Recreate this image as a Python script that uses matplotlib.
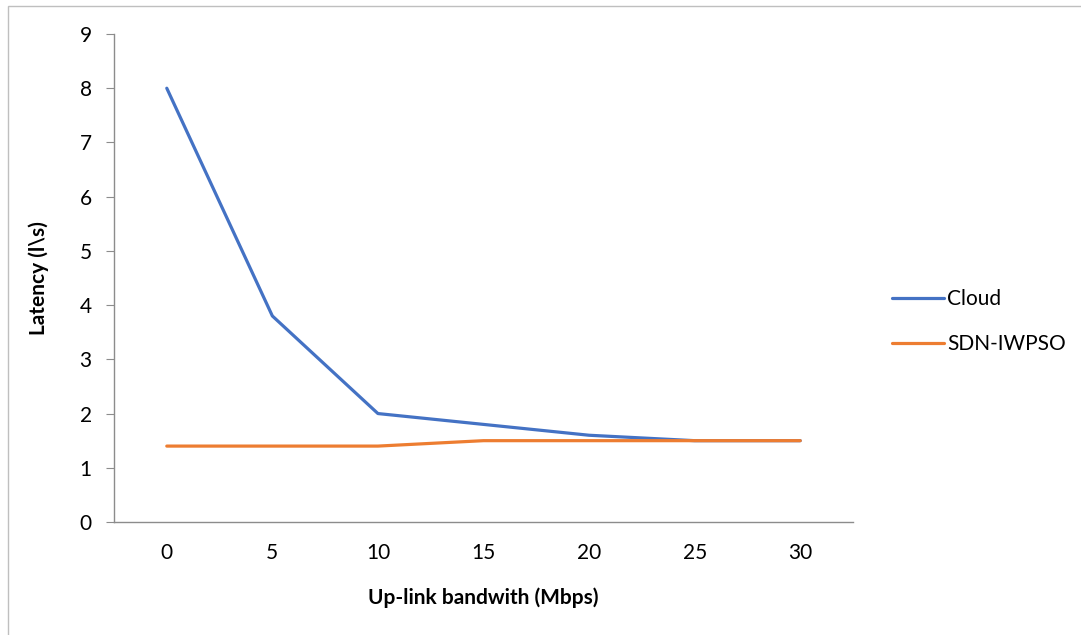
import matplotlib.pyplot as plt
from matplotlib.patches import Rectangle

categories = ["0", "5", "10", "15", "20", "25", "30"]
cloud = [8, 3.8, 2, 1.8, 1.6, 1.5, 1.5]
sdn_iwpso = [1.4, 1.4, 1.4, 1.5, 1.5, 1.5, 1.5]

plt.rcParams['font.family'] = ['Lato', 'DejaVu Sans']

fig = plt.figure(figsize=(10.81, 6.35), dpi=100)
W, H = 1081, 635
# axes box in pixels: left 114, right 853, top 34, bottom 522
ax = fig.add_axes([114 / W, 1 - 522 / H, (853 - 114) / W, (522 - 34) / H])

x = list(range(len(categories)))
ax.plot(x, cloud, color="#4472C4", lw=2.3, label="Cloud", solid_capstyle="round")
ax.plot(x, sdn_iwpso, color="#ED7D31", lw=2.3, label="SDN-IWPSO", solid_capstyle="round")

ax.set_xlim(-0.5, len(categories) - 0.5)
ax.set_ylim(0, 9)
ax.set_yticks(range(0, 10))
ax.set_xticks(x)
ax.set_xticklabels(categories)

for s in ["top", "right"]:
    ax.spines[s].set_visible(False)
for s in ["left", "bottom"]:
    ax.spines[s].set_color("#8c8c8c")
    ax.spines[s].set_linewidth(1)
ax.tick_params(axis="y", length=6, color="#8c8c8c", labelsize=15, pad=10)
ax.tick_params(axis="x", length=0, labelsize=15, pad=15)

ax.set_xlabel("Up-link bandwith (Mbps)", fontsize=15, fontweight="bold", labelpad=18)
ax.set_ylabel("Latency (l\\s)", fontsize=15, fontweight="bold", labelpad=22)

ax.legend(loc="center left", bbox_to_anchor=(1.027, 0.41), frameon=False,
          fontsize=15, handlelength=2.5, handletextpad=0.15, labelspacing=1.2)

fig.patches.append(Rectangle((8 / W, -0.1), 1.2, 1 - 6 / H + 0.1,
                             transform=fig.transFigure, fill=False,
                             edgecolor="#bfbfbf", lw=1))

fig.savefig("out.png", dpi=100)
